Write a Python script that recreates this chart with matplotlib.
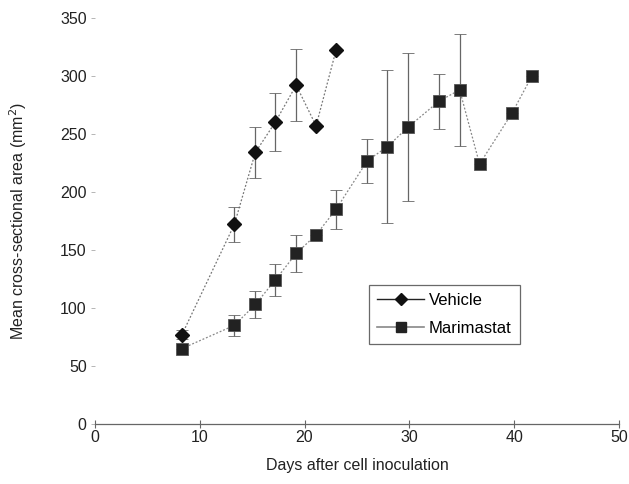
import matplotlib
matplotlib.use("Agg")
import matplotlib.pyplot as plt
from matplotlib.lines import Line2D

plt.rcParams['font.family'] = ['Liberation Sans', 'DejaVu Sans']

# Vehicle group
veh_days = [8.3, 13.3, 15.3, 17.2, 19.2, 21.1, 23.0]
veh_area = [77, 172, 234, 260, 292, 257, 322]
veh_err = [4, 15, 22, 25, 31, 0, 0]

# Marimastat group
mar_days = [8.3, 13.3, 15.3, 17.2, 19.2, 21.1, 23.0, 26.0, 27.9, 29.9,
            32.8, 34.8, 36.7, 39.8, 41.7]
mar_area = [65, 85, 103, 124, 147, 163, 185, 227, 239, 256,
            278, 288, 224, 268, 300]
mar_err = [0, 9, 12, 14, 16, 0, 17, 19, 66, 64,
           24, 48, 0, 0, 0]

fig = plt.figure(figsize=(6.29, 4.84), dpi=100)
ax = fig.add_axes([0.151, 0.124, 0.833, 0.839])

# connecting lines (faint, dotted like the scan)
ax.plot(veh_days, veh_area, color='#777777', lw=0.9, ls=(0, (1.5, 1.5)), zorder=1)
ax.plot(mar_days, mar_area, color='#888888', lw=0.9, ls=(0, (1.5, 1.5)), zorder=1)

# error bars
ax.errorbar(veh_days, veh_area, yerr=veh_err, fmt='none', ecolor='#666666',
            elinewidth=0.9, capsize=4, capthick=0.6, zorder=2)
ax.errorbar(mar_days, mar_area, yerr=mar_err, fmt='none', ecolor='#666666',
            elinewidth=0.9, capsize=4, capthick=0.6, zorder=2)

# markers
ax.plot(veh_days, veh_area, ls='none', marker='D', ms=7, color='#111111', zorder=3)
ax.plot(mar_days, mar_area, ls='none', marker='s', ms=8, color='#222222',
        markeredgecolor='#555555', markeredgewidth=0.6, zorder=3)

ax.set_xlim(0, 50)
ax.set_ylim(0, 350)
ax.set_xticks([0, 10, 20, 30, 40, 50])
ax.set_yticks([0, 50, 100, 150, 200, 250, 300, 350])

for side in ['left', 'top', 'right']:
    ax.spines[side].set_visible(False)
ax.spines['bottom'].set_color('#666666')
ax.spines['bottom'].set_linewidth(0.9)

ax.tick_params(axis='x', direction='inout', length=6, width=0.8, colors='#666666',
               labelcolor='#222222', labelsize=11.5, pad=1)
ax.tick_params(axis='y', direction='out', length=3, width=0.6, colors='#aaaaaa',
               labelcolor='#222222', labelsize=11.5, pad=3)

ax.set_xlabel('Days after cell inoculation', fontsize=11.5, color='#222222', labelpad=10)
ax.set_ylabel('Mean cross-sectional area (mm$^2$)', fontsize=11.5, color='#222222', labelpad=22)

handles = [
    Line2D([], [], color='#222222', lw=1, marker='D', ms=6, markerfacecolor='#111111',
           markeredgecolor='#111111'),
    Line2D([], [], color='#888888', lw=1.2, marker='s', ms=7, markerfacecolor='#222222',
           markeredgecolor='#222222'),
]
leg = ax.legend(handles, ['Vehicle', 'Marimastat'], loc='lower left',
                bbox_to_anchor=(0.523, 0.197, 0.288, 0.153), mode='expand',
                fontsize=12, frameon=True, fancybox=False, handlelength=2.8,
                borderpad=0.5, labelspacing=0.75, handletextpad=0.3,
                borderaxespad=0)
leg.get_frame().set_edgecolor('#444444')
leg.get_frame().set_linewidth(0.9)

fig.savefig('out.png', dpi=100)
